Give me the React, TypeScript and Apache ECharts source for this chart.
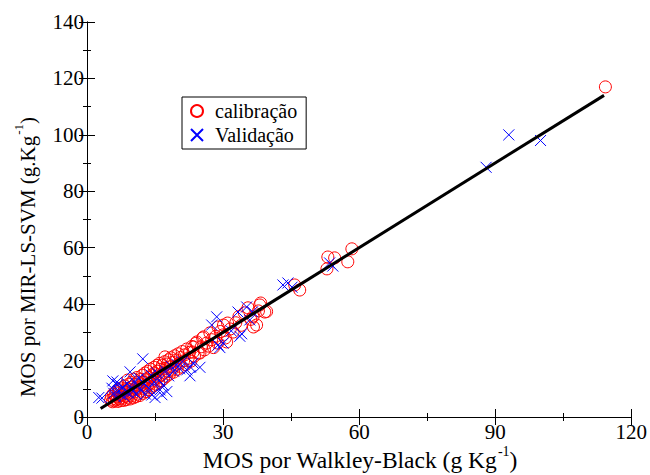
import React, { useEffect, useRef } from "react";
import * as echarts from "echarts";

const FONT = "Liberation Serif";

const xTicks = [0, 30, 60, 90, 120];
const yTicks = [0, 20, 40, 60, 80, 100, 120, 140];
const seriesNames = ["calibração", "Validação"];

const calibration: number[][] = [
  [5.2, 6.0], [5.4, 7.3], [5.6, 5.4], [5.8, 8.2], [5.9, 6.6], [6.1, 5.7], [6.2, 7.8], [6.4, 9.0], [6.5, 6.2], [6.7, 7.1],
  [6.8, 5.5], [6.9, 8.5], [7.1, 9.7], [7.2, 6.4], [7.4, 7.6], [7.5, 5.8], [7.6, 10.3], [7.8, 8.1], [7.9, 6.7], [8.1, 9.2],
  [8.2, 5.9], [8.3, 11.0], [8.5, 7.4], [8.6, 8.6], [8.7, 6.2], [8.9, 10.1], [9.0, 13.1], [9.1, 7.0], [9.2, 11.6], [9.4, 8.3],
  [9.5, 6.4], [9.6, 9.7], [9.8, 12.2], [9.9, 7.5], [10.1, 10.6], [10.2, 6.8], [10.3, 13.4], [10.5, 8.9], [10.6, 11.5], [10.8, 7.2],
  [10.9, 9.9], [11.0, 14.0], [11.2, 8.1], [11.3, 12.4], [11.5, 10.5], [11.6, 7.6], [11.8, 13.3], [11.9, 9.2], [12.1, 11.4], [12.2, 14.8],
  [12.4, 8.4], [12.5, 12.3], [12.7, 10.1], [12.8, 15.6], [13.0, 9.0], [13.1, 13.2], [13.3, 11.1], [13.4, 16.2], [13.6, 9.7], [13.7, 14.0],
  [13.9, 12.0], [14.0, 17.0], [14.2, 10.4], [14.3, 14.9], [14.5, 12.8], [14.6, 11.0], [14.8, 17.6], [14.9, 15.6], [15.1, 13.5], [15.2, 11.6],
  [15.4, 18.3], [15.5, 16.2], [15.7, 14.1], [15.8, 12.3], [16.0, 19.0], [16.1, 16.9], [16.3, 14.8], [16.4, 12.9], [16.6, 18.4], [16.8, 15.6],
  [16.9, 13.6], [17.1, 19.6], [17.2, 21.3], [17.3, 17.2], [17.5, 14.4], [17.7, 18.8], [17.8, 16.1], [18.0, 20.3], [18.2, 15.2], [18.3, 17.8],
  [18.5, 21.0], [18.7, 16.6], [18.9, 19.4], [19.1, 15.9], [19.3, 21.7], [19.5, 18.1], [19.7, 20.2], [19.9, 16.9], [20.1, 22.4], [20.3, 19.0],
  [20.6, 21.1], [20.8, 17.7], [21.0, 23.2], [21.3, 19.9], [21.5, 22.0], [21.8, 18.6], [22.0, 24.1], [22.3, 20.8], [22.6, 22.9], [22.9, 19.8],
  [23.1, 25.0], [23.4, 23.0], [23.5, 24.8], [23.7, 21.6], [24.0, 26.1], [24.2, 26.6], [24.5, 22.6], [24.9, 22.7], [25.2, 24.9], [25.5, 28.0],
  [25.7, 28.4], [25.9, 23.8], [26.4, 26.2], [26.8, 25.1], [27.1, 29.8], [27.5, 27.4], [27.9, 24.6], [28.4, 28.6], [28.8, 26.2], [28.9, 31.9],
  [29.4, 30.3], [30.0, 29.1], [30.1, 32.6], [30.5, 28.0], [30.8, 26.6], [31.0, 33.3], [31.6, 31.2], [32.2, 30.1], [32.8, 33.4], [33.5, 35.6],
  [34.0, 32.5], [34.7, 36.9], [35.5, 38.7], [36.1, 34.6], [36.6, 35.5], [36.7, 31.9], [37.4, 32.6], [37.8, 37.6], [38.1, 39.7], [38.3, 40.4],
  [39.2, 37.2], [39.6, 37.4], [45.8, 46.8], [46.9, 45.0], [52.9, 52.5], [53.1, 56.7], [54.6, 56.4], [57.5, 55.0], [58.4, 59.6], [114.3, 117.0],
];

const validation: number[][] = [
  [2.6, 6.9], [3.3, 6.7], [5.5, 10.2], [5.7, 12.8], [6.6, 12.4], [6.8, 11.5], [5.9, 8.4], [6.3, 7.1], [7.0, 9.3], [7.4, 8.0],
  [7.9, 10.6], [8.2, 7.3], [8.6, 9.0], [8.9, 11.8], [9.2, 8.5], [9.5, 16.0], [9.7, 10.4], [10.1, 9.1], [10.4, 12.6], [10.8, 8.2],
  [11.2, 10.9], [11.5, 13.8], [11.9, 9.4], [12.3, 20.6], [12.6, 11.7], [12.9, 8.1], [13.3, 13.1], [13.7, 10.2], [14.1, 14.9], [14.3, 7.8],
  [14.8, 12.4], [15.0, 6.9], [15.4, 15.7], [15.9, 13.0], [16.1, 9.6], [16.5, 7.9], [16.8, 11.3], [17.3, 16.4], [17.6, 9.0], [18.0, 14.6],
  [18.6, 17.9], [19.1, 16.2], [19.8, 18.7], [20.4, 17.1], [21.0, 19.6], [22.0, 16.7], [22.7, 14.6], [22.8, 17.7], [23.4, 19.1], [24.9, 17.6],
  [27.5, 32.6], [28.6, 35.5], [28.9, 25.5], [29.3, 24.6], [30.0, 26.2], [31.8, 30.5], [33.3, 37.2], [33.7, 28.6], [34.1, 29.5], [35.2, 39.0],
  [35.9, 34.4], [36.5, 37.3], [43.2, 46.8], [44.3, 47.5], [45.2, 46.0], [53.5, 54.6], [54.2, 53.5], [88.0, 88.5], [93.0, 100.0], [100.0, 98.0],
];

const fitLine: number[][] = [
  [3, 3],
  [114, 114],
];

const CROSS = "path://M0,0L10,10M10,0L0,10";

export default function App() {
  const ref = useRef<HTMLDivElement>(null);
  useEffect(() => {
    if (!ref.current) return;
    const chart = echarts.init(ref.current, undefined, { renderer: "svg" });
    const xMin = xTicks[0];
    const xMax = xTicks[xTicks.length - 1];
    const xInt = xTicks[1] - xTicks[0];
    const yMin = yTicks[0];
    const yMax = yTicks[yTicks.length - 1];
    const yInt = yTicks[1] - yTicks[0];
    const axisCommon = {
      type: "value",
      axisLine: { show: true, lineStyle: { color: "#000", width: 1 } },
      axisTick: { show: true, inside: true, length: 8, lineStyle: { color: "#000", width: 1 } },
      minorTick: { show: true, splitNumber: 2, length: 4, lineStyle: { color: "#000", width: 1 } },
      splitLine: { show: false },
      minorSplitLine: { show: false },
    };
    const option: any = {
      animation: false,
      grid: { left: 87, right: 18, top: 22, bottom: 58 },
      xAxis: [
        {
          ...axisCommon, min: xMin, max: xMax, interval: xInt, position: "bottom",
          axisLabel: { margin: 4, fontFamily: FONT, fontSize: 21, color: "#000" },
        },
        { ...axisCommon, min: xMin, max: xMax, interval: xInt, position: "top", axisLabel: { show: false } },
      ],
      yAxis: [
        {
          ...axisCommon, min: yMin, max: yMax, interval: yInt, position: "left",
          axisLabel: { margin: 3, fontFamily: FONT, fontSize: 21, color: "#000" },
        },
        { ...axisCommon, min: yMin, max: yMax, interval: yInt, position: "right", axisLabel: { show: false } },
      ],
      legend: {
        data: seriesNames,
        left: 182,
        top: 97,
        orient: "vertical",
        backgroundColor: "#fff",
        borderColor: "#000",
        borderWidth: 1,
        borderRadius: 0,
        padding: [4, 9, 4, 8],
        itemGap: 4,
        itemWidth: 12,
        itemHeight: 12,
        textStyle: { color: "#000", fontSize: 20, fontFamily: FONT, padding: [0, 0, 0, 7], lineHeight: 20 },
      },
      graphic: [
        {
          type: "text",
          x: 360,
          y: 461,
          style: {
            text: "{a|MOS por Walkley-Black (g Kg}{s|-1}{a|)}",
            align: "center",
            verticalAlign: "middle",
            fill: "#000",
            rich: {
              a: { fontSize: 23.5, fontFamily: FONT, color: "#000", lineHeight: 22, verticalAlign: "bottom" },
              s: { fontSize: 14, fontFamily: FONT, color: "#000", lineHeight: 14, verticalAlign: "bottom", padding: [0, 0, 14, 1] },
            },
          },
        },
        {
          type: "text",
          x: 28,
          y: 257,
          rotation: Math.PI / 2,
          style: {
            text: "{a|MOS por MIR-LS-SVM (g.Kg}{s|-1}{a|)}",
            align: "center",
            verticalAlign: "middle",
            fill: "#000",
            rich: {
              a: { fontSize: 21, fontFamily: FONT, color: "#000", lineHeight: 21, verticalAlign: "bottom" },
              s: { fontSize: 13, fontFamily: FONT, color: "#000", lineHeight: 13, verticalAlign: "bottom", padding: [0, 0, 14, 1] },
            },
          },
        },
      ],
      series: [
        {
          name: seriesNames[0],
          type: "scatter",
          data: calibration,
          symbol: "circle",
          symbolSize: 12,
          itemStyle: { color: "rgba(0,0,0,0)", borderColor: "#ff0000", borderWidth: 1, opacity: 1 },
          emphasis: { disabled: true },
          z: 2,
        },
        {
          name: seriesNames[1],
          type: "scatter",
          data: validation,
          symbol: CROSS,
          symbolSize: 11,
          itemStyle: { color: "rgba(0,0,0,0)", borderColor: "#0000ff", borderWidth: 1, opacity: 1 },
          emphasis: { disabled: true },
          z: 3,
        },
        {
          name: "fit",
          type: "line",
          data: fitLine,
          symbol: "none",
          lineStyle: { color: "#000", width: 3 },
          emphasis: { disabled: true },
          z: 4,
        },
      ],
    };
    chart.setOption(option);
    return () => chart.dispose();
  }, []);
  return <div ref={ref} style={{ width: 650, height: 475, position: "absolute", left: 0, top: 0 }} />;
}
